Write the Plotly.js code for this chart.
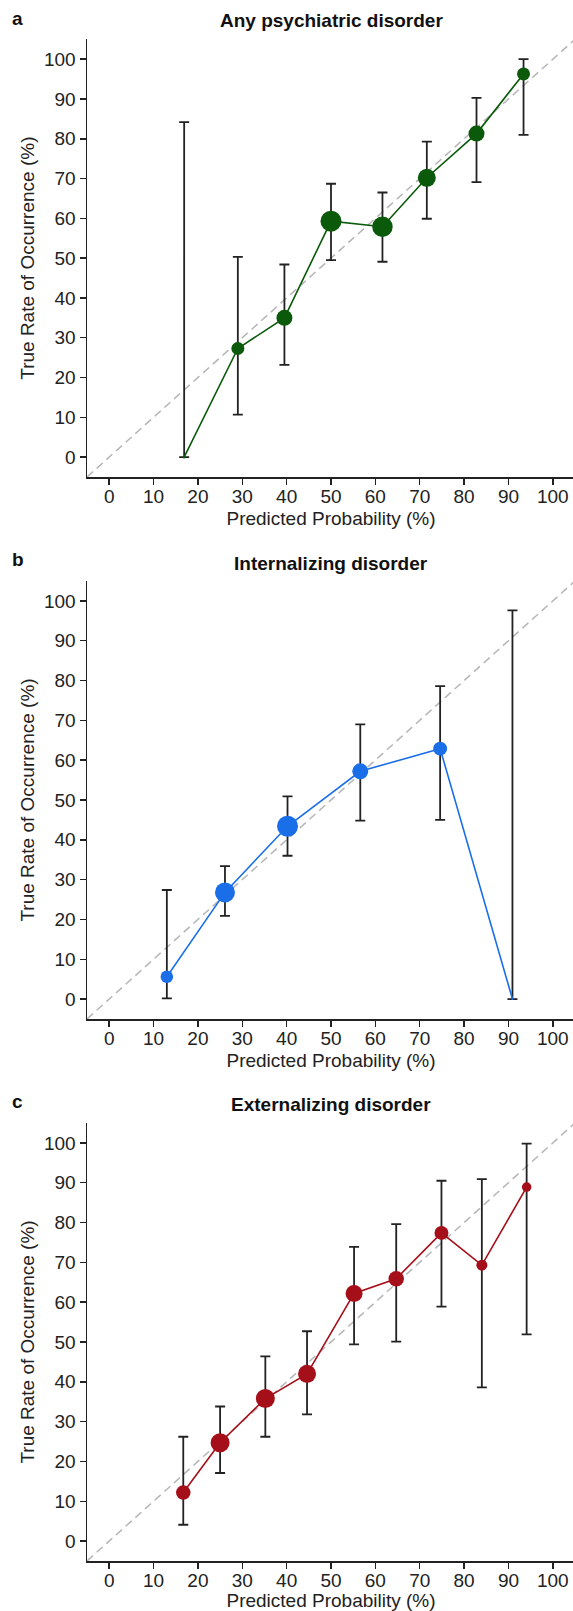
<!DOCTYPE html>
<html>
<head>
<meta charset="utf-8">
<script src="https://cdn.plot.ly/plotly-3.0.1.min.js"></script>
<style>
  html, body { margin: 0; padding: 0; overflow: hidden; background: #fff; }
  #chart { width: 575px; height: 1611px; }
</style>
</head>
<body>
<div id="chart"></div>
<script>
// ---------- data ----------
const tickValues = [0, 10, 20, 30, 40, 50, 60, 70, 80, 90, 100];
const identityLine = [-5, 105];

// Panel a: Any psychiatric disorder
const predA  = [16.9, 29.0, 39.5, 50.0, 61.6, 71.6, 82.8, 93.4];
const trueA  = [0.0, 27.3, 35.0, 59.3, 57.9, 70.2, 81.3, 96.3];
const upperA = [84.2, 50.3, 48.4, 68.7, 66.5, 79.3, 90.3, 100.0];
const lowerA = [0.0, 10.7, 23.2, 49.5, 49.1, 59.9, 69.1, 81.0];

// Panel b: Internalizing disorder
const predB  = [13.0, 26.1, 40.2, 56.6, 74.6, 90.9];
const trueB  = [5.6, 26.8, 43.4, 57.2, 62.9, 0.0];
const upperB = [27.4, 33.4, 50.9, 69.0, 78.6, 97.6];
const lowerB = [0.2, 20.9, 36.0, 44.8, 45.0, 0.0];

// Panel c: Externalizing disorder
const predC  = [16.7, 25.0, 35.2, 44.6, 55.2, 64.7, 74.9, 84.0, 94.1];
const trueC  = [12.2, 24.7, 35.8, 42.0, 62.2, 65.9, 77.4, 69.3, 88.9];
const upperC = [26.2, 33.8, 46.4, 52.7, 73.9, 79.6, 90.5, 90.9, 99.8];
const lowerC = [4.1, 17.1, 26.2, 31.8, 49.4, 50.1, 58.9, 38.6, 51.9];

const panelTitles = ['Any psychiatric disorder', 'Internalizing disorder', 'Externalizing disorder'];
const panelLetters = ['a', 'b', 'c'];
const xTitle = 'Predicted Probability (%)';
const yTitle = 'True Rate of Occurrence (%)';

// ---------- styles ----------
const sizeA = [3, 13, 16, 21, 20.5, 18, 16, 13];
const sizeB = [12.5, 20, 21, 16, 14, 2];
const sizeC = [14.5, 19, 19, 18, 17, 15.5, 14, 11, 9.5];
const colors = ['#0b5a0b', '#1a6fe8', '#a50f19'];
const FONT = 'Liberation Sans, Arial, Helvetica, sans-serif';
const TXT = '#222222';
const FS = 19;

const FIG_H = 1611;
// plot area pixel top/bottom for each panel
const plotTops = [39.3, 581, 1123];
const plotBottoms = [477, 1019, 1561];
const titleY = [20.7, 563, 1104];
const letterY = [18.5, 559, 1101];
const xTitleStandoff = [5, 5, 3];

const panels = [
  {x: predA, y: trueA, up: upperA, lo: lowerA, size: sizeA},
  {x: predB, y: trueB, up: upperB, lo: lowerB, size: sizeB},
  {x: predC, y: trueC, up: upperC, lo: lowerC, size: sizeC}
];

const traces = [];
const layout = {
  width: 575, height: FIG_H,
  margin: {l: 87, r: 0, t: 0, b: 0},
  paper_bgcolor: '#fff', plot_bgcolor: '#fff',
  showlegend: false,
  font: {family: FONT, size: FS, color: TXT},
  annotations: []
};

panels.forEach((p, i) => {
  const n = i === 0 ? '' : String(i + 1);
  const xa = 'x' + n, ya = 'y' + n;
  // identity reference line
  traces.push({
    x: identityLine, y: identityLine, xaxis: xa, yaxis: ya,
    mode: 'lines', hoverinfo: 'skip',
    line: {color: '#b5b5b5', width: 1.5, dash: '8px,5px'}
  });
  // confidence intervals
  traces.push({
    x: p.x, y: p.y, xaxis: xa, yaxis: ya, mode: 'markers',
    marker: {opacity: 0, size: 1},
    error_y: {
      type: 'data', symmetric: false,
      array: p.up.map((u, k) => u - p.y[k]),
      arrayminus: p.lo.map((l, k) => p.y[k] - l),
      color: '#222', thickness: 1.8, width: 5
    }
  });
  // calibration curve
  traces.push({
    x: p.x, y: p.y, xaxis: xa, yaxis: ya, mode: 'lines+markers',
    line: {color: colors[i], width: 1.6},
    marker: {color: colors[i], size: p.size, opacity: 1, line: {width: 0}}
  });

  const dom = [(FIG_H - plotBottoms[i]) / FIG_H, (FIG_H - plotTops[i]) / FIG_H];
  const axisCommon = {
    range: [-5, 105], tickmode: 'array', tickvals: tickValues,
    showline: true, linecolor: '#222', linewidth: 1.5,
    ticks: 'outside', ticklen: 6, tickwidth: 1.5, tickcolor: '#222',
    showgrid: false, zeroline: false,
    tickfont: {family: FONT, size: FS, color: TXT},
    fixedrange: true
  };
  layout['xaxis' + n] = Object.assign({}, axisCommon, {
    domain: [0, 1], anchor: ya, ticklabelstandoff: -4,
    title: {text: xTitle, font: {family: FONT, size: FS, color: TXT}, standoff: xTitleStandoff[i]}
  });
  layout['yaxis' + n] = Object.assign({}, axisCommon, {
    domain: dom, anchor: xa,
    title: {text: yTitle, font: {family: FONT, size: FS, color: TXT}, standoff: 4}
  });

  layout.annotations.push({
    text: '<b>' + panelTitles[i] + '</b>', showarrow: false,
    xref: xa + ' domain', x: 0.5, xanchor: 'center',
    yref: 'paper', y: (FIG_H - titleY[i]) / FIG_H, yanchor: 'middle',
    font: {family: FONT, size: FS, color: '#111'}
  });
  layout.annotations.push({
    text: '<b>' + panelLetters[i] + '</b>', showarrow: false,
    xref: 'paper', x: -77 / 488, xanchor: 'left',
    yref: 'paper', y: (FIG_H - letterY[i]) / FIG_H, yanchor: 'middle',
    font: {family: FONT, size: FS, color: '#111'}
  });
});

Plotly.newPlot('chart', traces, layout, {staticPlot: true, displayModeBar: false});
</script>
</body>
</html>
